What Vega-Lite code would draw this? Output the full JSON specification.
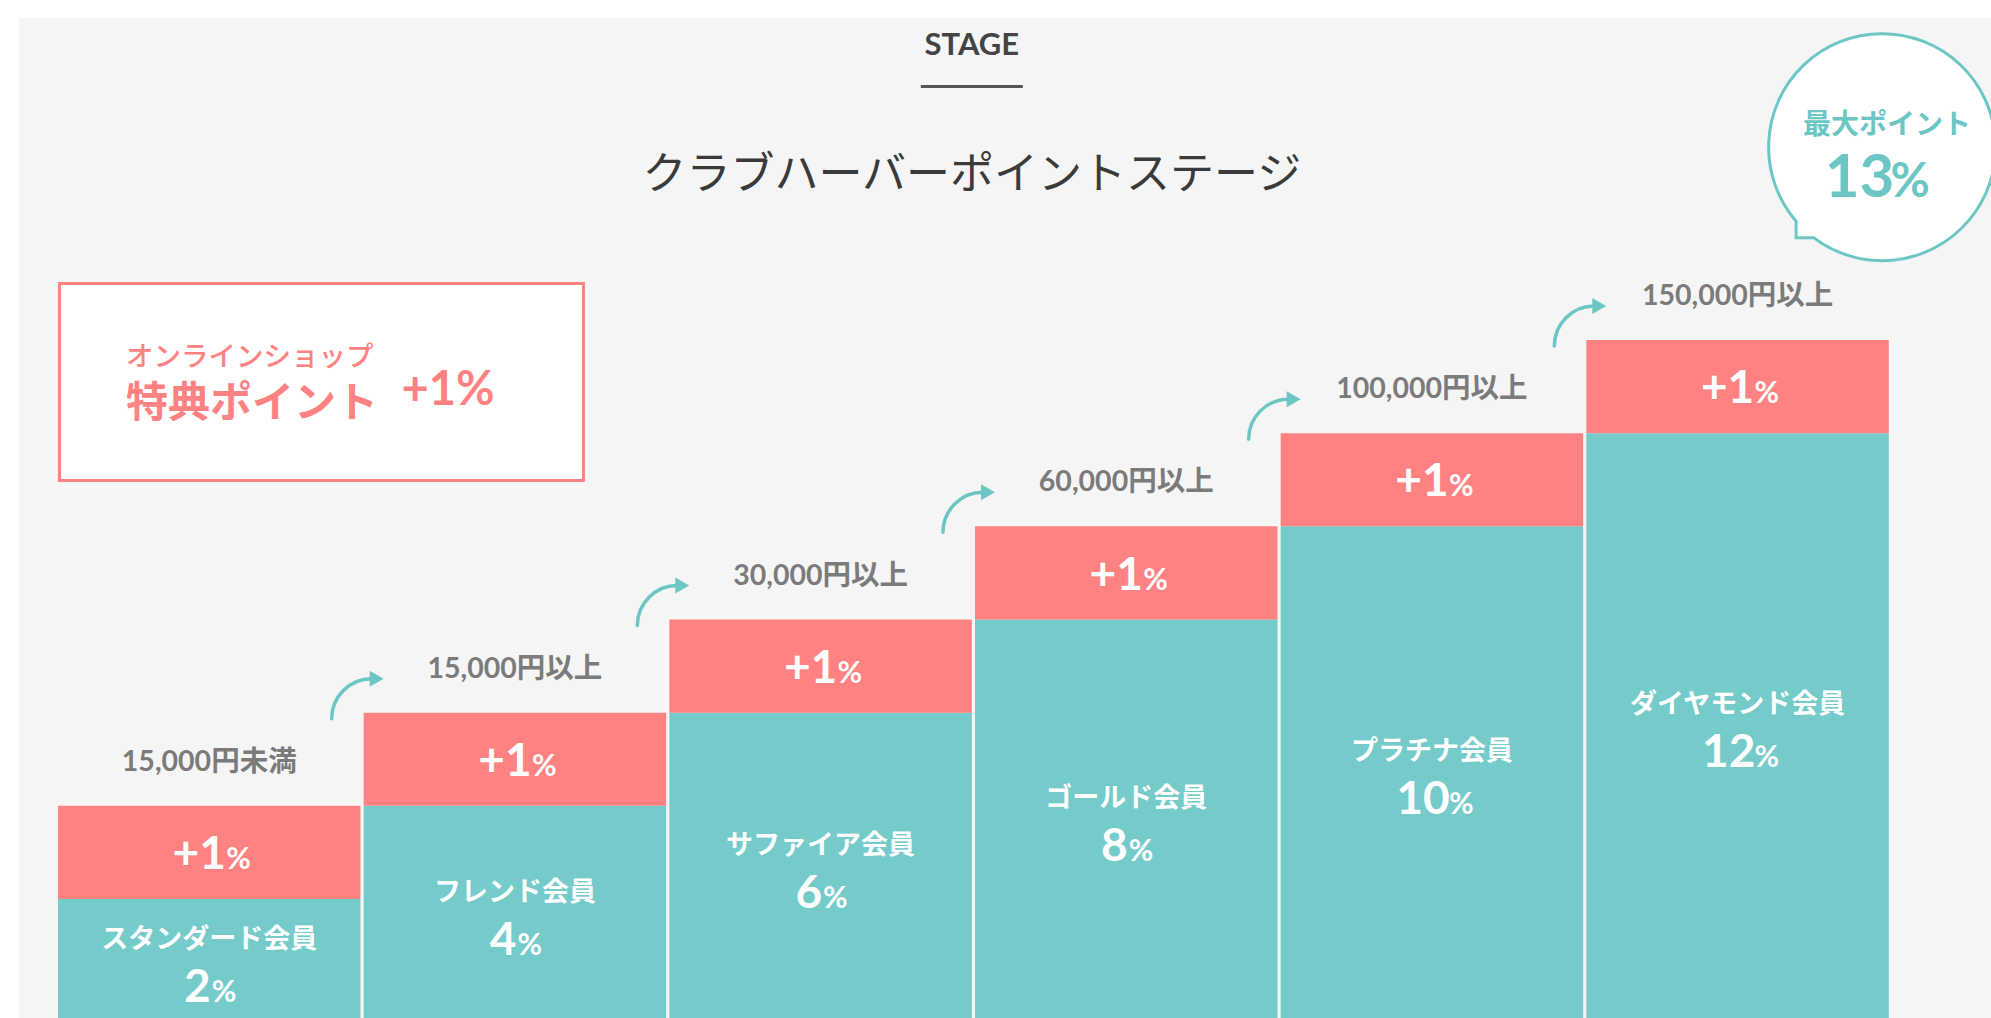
{
  "$schema": "https://vega.github.io/schema/vega-lite/v6.json",
  "width": 1972,
  "height": 1000,
  "autosize": {"type": "none"},
  "padding": {"left": 19, "top": 18, "right": 0, "bottom": 0},
  "background": "#ffffff",
  "config": {
    "view": {"fill": "#f5f5f5", "stroke": null},
    "text": {"font": "Lato, Noto Sans CJK JP"}
  },
  "datasets": {
    "stages": [
      {"stage": "スタンダード会員", "rank": 1, "rate": 2, "bonus": 1, "condition": "15,000円未満"},
      {"stage": "フレンド会員", "rank": 2, "rate": 4, "bonus": 1, "condition": "15,000円以上"},
      {"stage": "サファイア会員", "rank": 3, "rate": 6, "bonus": 1, "condition": "30,000円以上"},
      {"stage": "ゴールド会員", "rank": 4, "rate": 8, "bonus": 1, "condition": "60,000円以上"},
      {"stage": "プラチナ会員", "rank": 5, "rate": 10, "bonus": 1, "condition": "100,000円以上"},
      {"stage": "ダイヤモンド会員", "rank": 6, "rate": 12, "bonus": 1, "condition": "150,000円以上"}
    ],
    "notes": [
      {"heading": "STAGE", "title": "クラブハーバーポイントステージ", "shop": "オンラインショップ", "points": "特典ポイント", "bonusLabel": "+1%", "maxLabel": "最大ポイント", "max": 13}
    ]
  },
  "data": {"name": "stages"},
  "resolve": {"scale": {"y": "independent"}},
  "layer": [
    {
      "layer": [
        {
          "mark": {"type": "bar", "color": "#75cbca"},
          "encoding": {
            "x": {"field": "stage", "type": "nominal", "axis": null, "scale": {"domain": ["スタンダード会員", "フレンド会員", "サファイア会員", "ゴールド会員", "プラチナ会員", "ダイヤモンド会員"], "paddingInner": 0.0104, "paddingOuter": 0.2309, "align": 0.2762, "round": false}},
            "y": {"field": "rank", "type": "quantitative", "axis": null, "scale": {"domain": [-0.277, 10.456], "nice": false, "zero": false}},
            "y2": {"datum": -1}
          }
        },
        {
          "transform": [
            {"fold": ["rank", "bonus"], "as": ["seg", "val"]},
            {"stack": "val", "groupby": ["stage"], "sort": [{"field": "seg", "order": "descending"}], "as": ["v0", "v1"]},
            {"filter": "datum.seg == 'bonus'"}
          ],
          "layer": [
            {
              "mark": {"type": "bar", "color": "#ff8282"},
              "encoding": {
                "x": {"field": "stage", "type": "nominal", "axis": null},
                "y": {"field": "v1", "type": "quantitative", "axis": null},
                "y2": {"field": "v0"}
              }
            },
            {
              "mark": {"type": "text", "fontSize": 28.5, "fontWeight": "bold", "color": "#7b7b7b", "baseline": "alphabetic", "align": "center", "dy": -35},
              "encoding": {
                "x": {"field": "stage", "type": "nominal", "axis": null},
                "y": {"field": "v1", "type": "quantitative", "axis": null},
                "text": {"field": "condition"}
              }
            },
            {
              "transform": [{"filter": "datum.rank > 1"}],
              "mark": {"type": "point", "shape": "M -1.067 0.2 C -1.067 -0.537 -0.47 -1.133 0.267 -1.133", "size": 3600, "filled": false, "color": "#6cc6c4", "strokeWidth": 3.5, "strokeCap": "round", "opacity": 1},
              "encoding": {
                "x": {"field": "stage", "type": "nominal", "axis": null, "bandPosition": 0},
                "y": {"field": "v1", "type": "quantitative", "axis": null}
              }
            },
            {
              "transform": [{"filter": "datum.rank > 1"}],
              "mark": {"type": "point", "shape": "M 0.2 -1.4 L 0.667 -1.133 L 0.2 -0.867 Z", "size": 3600, "filled": true, "color": "#6cc6c4", "opacity": 1},
              "encoding": {
                "x": {"field": "stage", "type": "nominal", "axis": null, "bandPosition": 0},
                "y": {"field": "v1", "type": "quantitative", "axis": null}
              }
            }
          ]
        },
        {
          "mark": {"type": "text", "fontSize": 46, "fontWeight": "bold", "color": "#ffffff", "align": "right", "baseline": "alphabetic", "dx": 16.7, "dy": -30},
          "encoding": {
            "x": {"field": "stage", "type": "nominal", "axis": null},
            "y": {"field": "rank", "type": "quantitative", "axis": null},
            "text": {"field": "bonus", "type": "quantitative", "format": "+d"}
          }
        },
        {
          "mark": {"type": "text", "fontSize": 30, "fontWeight": "bold", "color": "#ffffff", "align": "left", "baseline": "alphabetic", "dx": 17, "dy": -30},
          "encoding": {
            "x": {"field": "stage", "type": "nominal", "axis": null},
            "y": {"field": "rank", "type": "quantitative", "axis": null},
            "text": {"value": "%"}
          }
        },
        {
          "data": {"name": "notes"},
          "mark": {"type": "text", "fontSize": 31, "fontWeight": "bold", "color": "#444444", "baseline": "alphabetic", "align": "center"},
          "encoding": {
            "x": {"datum": "サファイア会員", "type": "nominal", "bandPosition": 1, "axis": null},
            "y": {"datum": 10.059, "type": "quantitative", "axis": null},
            "text": {"field": "heading"}
          }
        },
        {
          "data": {"name": "notes"},
          "mark": {"type": "point", "shape": "M -1 0 L 1 0", "size": 10404, "filled": false, "color": "#555555", "strokeWidth": 3, "opacity": 1},
          "encoding": {
            "x": {"datum": "サファイア会員", "type": "nominal", "bandPosition": 1, "axis": null},
            "y": {"datum": 9.721, "type": "quantitative", "axis": null}
          }
        },
        {
          "data": {"name": "notes"},
          "mark": {"type": "text", "fontSize": 44, "fontWeight": "normal", "color": "#3a3a3a", "baseline": "middle", "align": "center"},
          "encoding": {
            "x": {"datum": "サファイア会員", "type": "nominal", "bandPosition": 1, "axis": null},
            "y": {"datum": 8.763, "type": "quantitative", "axis": null},
            "text": {"field": "title"}
          }
        },
        {
          "data": {"name": "notes"},
          "mark": {"type": "point", "shape": "M -1 -0.376 L 1 -0.376 L 1 0.376 L -1 0.376 Z", "size": 274576, "filled": true, "fill": "#ffffff", "stroke": "#ff8282", "strokeWidth": 3, "opacity": 1},
          "encoding": {
            "x": {"datum": "スタンダード会員", "type": "nominal", "bandPosition": 0.871, "axis": null},
            "y": {"datum": 6.549, "type": "quantitative", "axis": null}
          }
        },
        {
          "data": {"name": "notes"},
          "mark": {"type": "text", "fontSize": 27.5, "fontWeight": 500, "color": "#ff8282", "baseline": "middle", "align": "left"},
          "encoding": {
            "x": {"datum": "スタンダード会員", "type": "nominal", "bandPosition": 0.225, "axis": null},
            "y": {"datum": 6.807, "type": "quantitative", "axis": null},
            "text": {"field": "shop"}
          }
        },
        {
          "data": {"name": "notes"},
          "mark": {"type": "text", "fontSize": 42, "fontWeight": "bold", "color": "#ff8282", "baseline": "middle", "align": "left"},
          "encoding": {
            "x": {"datum": "スタンダード会員", "type": "nominal", "bandPosition": 0.225, "axis": null},
            "y": {"datum": 6.31, "type": "quantitative", "axis": null},
            "text": {"field": "points"}
          }
        },
        {
          "data": {"name": "notes"},
          "mark": {"type": "text", "fontSize": 47, "fontWeight": "bold", "color": "#ff8282", "baseline": "alphabetic", "align": "left"},
          "encoding": {
            "x": {"datum": "フレンド会員", "type": "nominal", "bandPosition": 0.125, "axis": null},
            "y": {"datum": 6.302, "type": "quantitative", "axis": null},
            "text": {"field": "bonusLabel"}
          }
        },
        {
          "data": {"name": "notes"},
          "mark": {"type": "point", "shape": "M -0.6 0.8 A 1 1 0 1 0 -0.757 0.653 L -0.757 0.8 Z", "size": 51529, "filled": true, "fill": "#ffffff", "stroke": "#6cc6c4", "strokeWidth": 3, "opacity": 1},
          "encoding": {
            "x": {"datum": "ダイヤモンド会員", "type": "nominal", "bandPosition": 0.9775, "axis": null},
            "y": {"datum": 9.071, "type": "quantitative", "axis": null}
          }
        },
        {
          "data": {"name": "notes"},
          "mark": {"type": "text", "fontSize": 28, "fontWeight": "bold", "color": "#6cc6c4", "baseline": "middle", "align": "center"},
          "encoding": {
            "x": {"datum": "ダイヤモンド会員", "type": "nominal", "bandPosition": 0.994, "axis": null},
            "y": {"datum": 9.298, "type": "quantitative", "axis": null},
            "text": {"field": "maxLabel"}
          }
        },
        {
          "data": {"name": "notes"},
          "mark": {"type": "text", "fontSize": 60, "fontWeight": "bold", "color": "#6cc6c4", "baseline": "alphabetic", "align": "right"},
          "encoding": {
            "x": {"datum": "ダイヤモンド会員", "type": "nominal", "bandPosition": 1.0185, "axis": null},
            "y": {"datum": 8.535, "type": "quantitative", "axis": null},
            "text": {"field": "max", "type": "quantitative"}
          }
        },
        {
          "data": {"name": "notes"},
          "mark": {"type": "text", "fontSize": 48, "fontWeight": "bold", "color": "#6cc6c4", "baseline": "alphabetic", "align": "left"},
          "encoding": {
            "x": {"datum": "ダイヤモンド会員", "type": "nominal", "bandPosition": 1.0056, "axis": null},
            "y": {"datum": 8.535, "type": "quantitative", "axis": null},
            "text": {"value": "%"}
          }
        }
      ]
    },
    {
      "layer": [
        {
          "mark": {"type": "text", "fontSize": 27, "fontWeight": "bold", "color": "#ffffff", "baseline": "middle", "align": "center"},
          "encoding": {
            "x": {"field": "stage", "type": "nominal", "axis": null},
            "y": {"field": "rate", "type": "quantitative", "axis": null, "scale": {"domain": [-1.319, 41.234], "nice": false, "zero": false}},
            "text": {"field": "stage"}
          }
        },
        {
          "transform": [{"filter": "datum.rate < 10"}],
          "mark": {"type": "text", "fontSize": 46, "fontWeight": "bold", "color": "#ffffff", "baseline": "alphabetic", "align": "right", "dx": 1.5, "dy": 62},
          "encoding": {
            "x": {"field": "stage", "type": "nominal", "axis": null},
            "y": {"field": "rate", "type": "quantitative", "axis": null},
            "text": {"field": "rate", "type": "quantitative"}
          }
        },
        {
          "transform": [{"filter": "datum.rate >= 10"}],
          "mark": {"type": "text", "fontSize": 46, "fontWeight": "bold", "color": "#ffffff", "baseline": "alphabetic", "align": "right", "dx": 17.8, "dy": 62},
          "encoding": {
            "x": {"field": "stage", "type": "nominal", "axis": null},
            "y": {"field": "rate", "type": "quantitative", "axis": null},
            "text": {"field": "rate", "type": "quantitative"}
          }
        },
        {
          "transform": [{"filter": "datum.rate < 10"}],
          "mark": {"type": "text", "fontSize": 30, "fontWeight": "bold", "color": "#ffffff", "baseline": "alphabetic", "align": "left", "dx": 2.5, "dy": 62},
          "encoding": {
            "x": {"field": "stage", "type": "nominal", "axis": null},
            "y": {"field": "rate", "type": "quantitative", "axis": null},
            "text": {"value": "%"}
          }
        },
        {
          "transform": [{"filter": "datum.rate >= 10"}],
          "mark": {"type": "text", "fontSize": 30, "fontWeight": "bold", "color": "#ffffff", "baseline": "alphabetic", "align": "left", "dx": 17, "dy": 62},
          "encoding": {
            "x": {"field": "stage", "type": "nominal", "axis": null},
            "y": {"field": "rate", "type": "quantitative", "axis": null},
            "text": {"value": "%"}
          }
        }
      ]
    }
  ]
}
